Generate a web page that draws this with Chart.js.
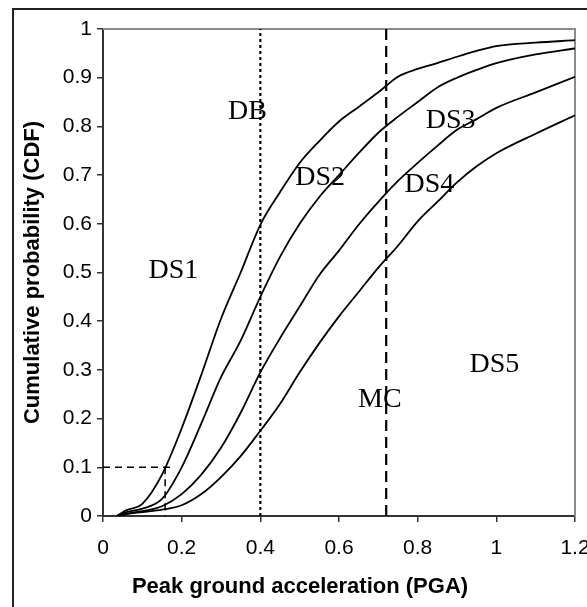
<!DOCTYPE html>
<html>
<head>
<meta charset="utf-8">
<script src="https://cdn.jsdelivr.net/npm/chart.js@4/dist/chart.umd.min.js"></script>
<style>
  html, body { margin: 0; padding: 0; background: #fff; }
  #wrap { width: 587px; height: 607px; }
</style>
</head>
<body>
<div id="wrap"><canvas id="cdfChart" width="587" height="607"></canvas></div>
<script>
// PGA values (g) shared by the four fragility curves
const pga = [0.035, 0.06, 0.1, 0.15, 0.2, 0.25, 0.3, 0.35, 0.4, 0.45, 0.5, 0.55, 0.6, 0.65, 0.7, 0.75, 0.8, 0.85, 0.9, 0.95, 1.0, 1.1, 1.2];

// cumulative probabilities
const curve1 = [0, 0.012, 0.025, 0.085, 0.18, 0.29, 0.405, 0.5, 0.598, 0.665, 0.725, 0.77, 0.81, 0.84, 0.87, 0.902, 0.918, 0.93, 0.943, 0.955, 0.965, 0.972, 0.977];
const curve2 = [0, 0.008, 0.015, 0.035, 0.1, 0.19, 0.285, 0.36, 0.45, 0.532, 0.6, 0.655, 0.7, 0.745, 0.787, 0.82, 0.85, 0.88, 0.9, 0.916, 0.93, 0.948, 0.96];
const curve3 = [0, 0.005, 0.01, 0.02, 0.045, 0.085, 0.14, 0.212, 0.295, 0.365, 0.43, 0.495, 0.545, 0.598, 0.645, 0.688, 0.725, 0.76, 0.793, 0.815, 0.838, 0.87, 0.902];
const curve4 = [0, 0.004, 0.008, 0.013, 0.022, 0.045, 0.08, 0.123, 0.175, 0.23, 0.295, 0.355, 0.41, 0.46, 0.51, 0.555, 0.605, 0.645, 0.685, 0.718, 0.745, 0.785, 0.823];

// reference lines
const dbPga = 0.4;
const mcPga = 0.72;
const slightPga = 0.158;
const slightProb = 0.1;
const slightLineEnd = 0.178;

const xTickLabels = ['0', '0.2', '0.4', '0.6', '0.8', '1', '1.2'];
const yTickLabels = ['0', '0.1', '0.2', '0.3', '0.4', '0.5', '0.6', '0.7', '0.8', '0.9', '1'];

const regionNames = ['DB', 'DS1', 'DS2', 'DS3', 'DS4', 'DS5', 'MC'];
const regionX = [0.367, 0.179, 0.552, 0.884, 0.83, 0.995, 0.704];
const regionY = [0.83, 0.503, 0.694, 0.811, 0.68, 0.31, 0.238];

const xTitle = 'Peak ground acceleration (PGA)';
const titleFont = 'bold 22px "Liberation Sans", Arial, sans-serif';

const toPoints = ys => pga.map((x, i) => ({ x: x, y: ys[i] }));

const curveStyle = {
  borderColor: '#000',
  borderWidth: 1.8,
  pointRadius: 0,
  cubicInterpolationMode: 'monotone',
  fill: false
};

// outer frame + gray top/right plot border
const framePlugin = {
  id: 'frame',
  beforeDraw(chart) {
    const ctx = chart.ctx;
    ctx.save();
    ctx.fillStyle = '#fff';
    ctx.fillRect(0, 0, chart.width, chart.height);
    ctx.strokeStyle = '#222';
    ctx.lineWidth = 2;
    ctx.strokeRect(13, 9, chart.width + 20, chart.height + 20);
    ctx.restore();
  },
  beforeDatasetsDraw(chart) {
    const { ctx, chartArea: a } = chart;
    ctx.save();
    ctx.strokeStyle = '#8c8c8c';
    ctx.lineWidth = 2;
    ctx.beginPath();
    ctx.moveTo(a.left, a.top);
    ctx.lineTo(a.right, a.top);
    ctx.lineTo(a.right, a.bottom);
    ctx.stroke();
    ctx.restore();
  }
};

// region names inside the plot, x title centred on the whole figure
const regionLabels = {
  id: 'regionLabels',
  afterDatasetsDraw(chart) {
    const { ctx, scales } = chart;
    ctx.save();
    ctx.fillStyle = '#000';
    ctx.font = '28px "Liberation Serif", "Times New Roman", serif';
    ctx.textAlign = 'center';
    ctx.textBaseline = 'middle';
    regionNames.forEach((name, i) => {
      ctx.fillText(name, scales.x.getPixelForValue(regionX[i]), scales.y.getPixelForValue(regionY[i]));
    });
    ctx.font = titleFont;
    ctx.fillText(xTitle, 300, 587);
    ctx.restore();
  }
};

new Chart(document.getElementById('cdfChart'), {
  type: 'line',
  data: {
    datasets: [
      Object.assign({ data: toPoints(curve1) }, curveStyle),
      Object.assign({ data: toPoints(curve2) }, curveStyle),
      Object.assign({ data: toPoints(curve3) }, curveStyle),
      Object.assign({ data: toPoints(curve4) }, curveStyle),
      {
        data: [{ x: dbPga, y: 0 }, { x: dbPga, y: 1 }],
        borderColor: '#000', borderWidth: 2.2, borderDash: [3, 3], pointRadius: 0
      },
      {
        data: [{ x: mcPga, y: 0 }, { x: mcPga, y: 1 }],
        borderColor: '#000', borderWidth: 2.2, borderDash: [11, 6], pointRadius: 0
      },
      {
        data: [{ x: 0, y: slightProb }, { x: slightLineEnd, y: slightProb }],
        borderColor: '#000', borderWidth: 1.5, borderDash: [7, 5], pointRadius: 0
      },
      {
        data: [{ x: slightPga, y: slightProb }, { x: slightPga, y: 0 }],
        borderColor: '#000', borderWidth: 1.5, borderDash: [7, 5], pointRadius: 0
      }
    ]
  },
  options: {
    responsive: false,
    animation: false,
    layout: { padding: { left: 0, top: 29, right: 12, bottom: 0 } },
    plugins: {
      legend: { display: false },
      tooltip: { enabled: false }
    },
    scales: {
      x: {
        type: 'linear',
        min: 0,
        max: 1.2,
        afterBuildTicks: s => { s.ticks = xTickLabels.map(t => ({ value: parseFloat(t) })); },
        afterFit: s => { s.height = 91; s.paddingLeft = 0; s.paddingRight = 0; },
        ticks: {
          callback: (v, i) => xTickLabels[i],
          color: '#000',
          padding: 14,
          maxRotation: 0,
          font: { family: '"Liberation Sans", Arial, sans-serif', size: 21 }
        },
        grid: { drawOnChartArea: false, tickLength: 6, color: '#333', lineWidth: 1.5 },
        border: { display: true, color: '#333', width: 2 }
      },
      y: {
        min: 0,
        max: 1,
        afterBuildTicks: s => { s.ticks = yTickLabels.map(t => ({ value: parseFloat(t) })); },
        afterFit: s => { s.width = 103; s.paddingTop = 0; s.paddingBottom = 0; },
        ticks: {
          callback: (v, i) => yTickLabels[i],
          color: '#000',
          padding: 5,
          font: { family: '"Liberation Sans", Arial, sans-serif', size: 21 }
        },
        grid: { drawOnChartArea: false, tickLength: 6, color: '#333', lineWidth: 1.5 },
        border: { display: true, color: '#333', width: 2 },
        title: {
          display: true,
          text: 'Cumulative probability (CDF)',
          color: '#000',
          padding: { top: 20, bottom: 0 },
          font: { family: '"Liberation Sans", Arial, sans-serif', size: 22, weight: 'bold' }
        }
      }
    }
  },
  plugins: [framePlugin, regionLabels]
});
</script>
</body>
</html>
